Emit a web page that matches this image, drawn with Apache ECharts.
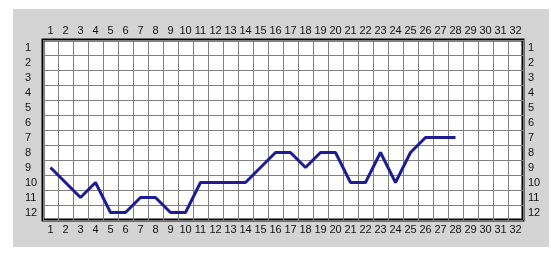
<!DOCTYPE html>
<html>
<head>
<meta charset="utf-8">
<style>
html,body{margin:0;padding:0;background:#fff;}
#bg{position:absolute;left:13px;top:9px;width:536px;height:238px;background:#d4d4d4;}
#c{position:absolute;left:0;top:0;width:551px;height:256px;}
</style>
<script src="https://cdn.jsdelivr.net/npm/echarts@6/dist/echarts.min.js"></script>
</head>
<body>
<div id="bg"></div>
<div id="c"></div>
<script>
const xCategories = Array.from({length:32}, (_, i) => String(i + 1));
const yCategories = ['1','2','3','4','5','6','7','8','9','10','11','12'];
const seriesValues = [9,10,11,10,12,12,11,11,12,12,10,10,10,10,9,8,8,9,8,8,10,10,8,10,8,7,7,7];

const chart = echarts.init(document.getElementById('c'), null, {renderer:'canvas'});
const labelFont = {fontFamily:'Liberation Sans, Arial, sans-serif', fontSize:11, color:'#111'};
const splitStyle = {show:true, interval:0, lineStyle:{color:'#808080', width:1}};
const xBase = {
  type:'category', data:xCategories, boundaryGap:true,
  axisLine:{show:false}, axisTick:{show:false},
  splitLine:splitStyle
};
const yBase = {
  type:'category', data:yCategories, inverse:true, boundaryGap:true,
  axisLine:{show:false}, axisTick:{show:false},
  splitLine:splitStyle
};
chart.setOption({
  backgroundColor:'transparent',
  animation:false,
  grid:{left:43, top:40, width:480, height:180, show:true, backgroundColor:'#fff', borderColor:'#000', borderWidth:3},
  xAxis:[
    Object.assign({}, xBase, {position:'bottom', axisLabel:Object.assign({interval:0, margin:4}, labelFont)}),
    Object.assign({}, xBase, {position:'top', splitLine:{show:false}, axisLabel:Object.assign({interval:0, margin:4}, labelFont)})
  ],
  yAxis:[
    Object.assign({}, yBase, {position:'left', axisLabel:Object.assign({interval:0, margin:18, align:'left'}, labelFont)}),
    Object.assign({}, yBase, {position:'right', splitLine:{show:false}, axisLabel:Object.assign({interval:0, margin:5, align:'left'}, labelFont)})
  ],
  series:[{
    type:'line',
    xAxisIndex:0, yAxisIndex:0,
    data:seriesValues.map((v, i) => [xCategories[i], String(v)]),
    symbol:'none',
    lineStyle:{color:'#1c1c94', width:3},
    z:5
  }]
});
</script>
</body>
</html>
